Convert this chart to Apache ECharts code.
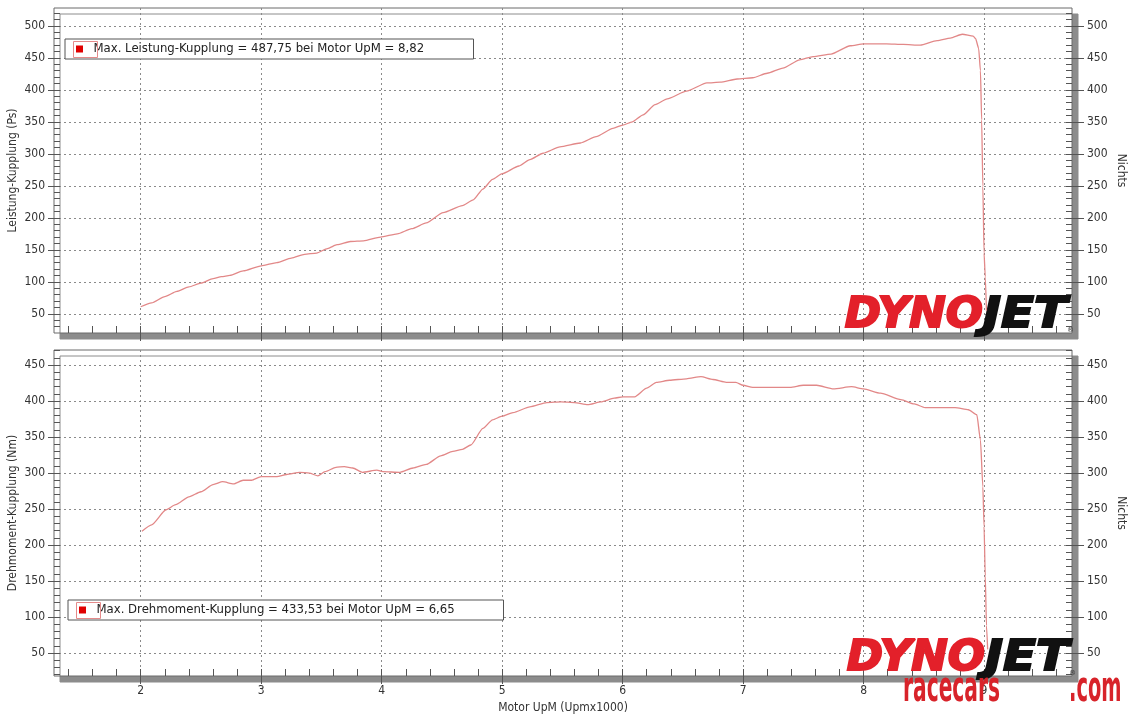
<!DOCTYPE html>
<html>
<head>
<meta charset="utf-8">
<title>Leistung / Drehmoment</title>
<script src="https://cdn.jsdelivr.net/npm/echarts@6/dist/echarts.min.js"></script>
<style>
  html, body { margin: 0; padding: 0; background: #fff; }
  #chart { width: 1140px; height: 727px; }
</style>
</head>
<body>
<div id="chart"></div>
<script>
// Leistung (Ps) ueber Motordrehzahl (x1000)
const rpmPower = [2.00, 2.09, 2.20, 2.30, 2.40, 2.50, 2.60, 2.67, 2.74, 2.85, 3.00, 3.13, 3.25, 3.36, 3.46,
  3.55, 3.63, 3.74, 3.85, 3.99, 4.13, 4.25, 4.37, 4.51, 4.67, 4.76, 4.84, 4.92, 5.00, 5.14, 5.23, 5.34,
  5.48, 5.65, 5.78, 5.92, 6.00, 6.08, 6.17, 6.27, 6.37, 6.53, 6.70, 6.81, 6.95, 7.08, 7.20, 7.33, 7.47,
  7.58, 7.73, 7.89, 8.00, 8.19, 8.33, 8.47, 8.61, 8.72, 8.82, 8.91, 8.93, 8.955, 8.97, 8.98, 8.99, 9.00,
  9.01, 9.02];
const power = [61, 67, 77, 85, 92, 98, 105, 108, 110, 117, 125, 130, 137, 143, 145,
  152, 158, 163, 164, 170, 175, 183, 192, 208, 219, 228, 245, 260, 269, 281, 291, 301,
  311, 317, 327, 340, 345, 350, 361, 377, 386, 398, 411, 412, 417, 419, 426, 434, 447,
  452, 456, 469, 472, 472, 471, 470, 477, 481, 487, 484, 480, 465, 430, 353, 249, 145,
  108, 55];

// Drehmoment (Nm) ueber Motordrehzahl (x1000)
const rpmTorque = [2.01, 2.09, 2.21, 2.29, 2.40, 2.50, 2.60, 2.68, 2.77, 2.85, 2.92, 3.00, 3.13, 3.21,
  3.32, 3.40, 3.47, 3.53, 3.62, 3.69, 3.76, 3.84, 3.96, 4.01, 4.15, 4.26, 4.37, 4.49, 4.59, 4.67, 4.74,
  4.84, 4.92, 5.00, 5.09, 5.23, 5.37, 5.49, 5.60, 5.71, 5.82, 5.93, 6.00, 6.10, 6.20, 6.28, 6.39, 6.53,
  6.65, 6.75, 6.86, 6.94, 7.00, 7.08, 7.25, 7.39, 7.50, 7.61, 7.75, 7.90, 8.00, 8.14, 8.31, 8.42, 8.51,
  8.62, 8.76, 8.87, 8.94, 8.97, 8.99, 9.00, 9.01, 9.02, 9.03];
const torque = [219, 228, 249, 256, 267, 274, 284, 288, 285, 290, 290, 295, 295, 298,
  301, 300, 296, 302, 308, 309, 307, 301, 304, 302, 301, 307, 312, 324, 330, 333, 339,
  362, 374, 379, 384, 392, 398, 399, 398, 395, 399, 404, 406, 406, 418, 426, 429, 431,
  434, 430, 426, 426, 422, 419, 419, 419, 422, 422, 417, 420, 417, 411, 402, 396, 391,
  391, 391, 388, 381, 346, 281, 226, 157, 88, 55];

// Achsenbeschriftungen
const rpmTicks = [2, 3, 4, 5, 6, 7, 8, 9];
const powerTicks = [50, 100, 150, 200, 250, 300, 350, 400, 450, 500];
const torqueTicks = [50, 100, 150, 200, 250, 300, 350, 400, 450];

const powerLegend = 'Max. Leistung-Kupplung = 487,75 bei Motor UpM = 8,82';
const torqueLegend = 'Max. Drehmoment-Kupplung = 433,53 bei Motor UpM = 6,65';

const FONT = '"DejaVu Sans Condensed", "DejaVu Sans", sans-serif';
const X_MIN = 1.28, X_MAX = 9.73;
const P_MIN = 20, P_MAX = 528;
const T_MIN = 18, T_MAX = 471;

function steps(from, to, step) {
  const out = [];
  for (let v = from; v <= to + 1e-9; v += step) out.push(Math.round(v * 100) / 100);
  return out;
}
const rpmMinor = steps(1.4, 9.6, 0.2);
const powerMinor = steps(30, 520, 10);
const torqueMinor = steps(20, 470, 10);

const gridLine = { color: '#8a8a8a', type: [2, 3], width: 1 };
const tickLine = { color: '#555', width: 1 };
const labelStyle = { fontFamily: FONT, fontSize: 12, color: '#333' };

function xMajor(grid, withLabels) {
  return {
    type: 'value', gridIndex: grid, min: X_MIN, max: X_MAX, position: 'bottom',
    name: withLabels ? 'Motor UpM (Upmx1000)' : '',
    nameLocation: 'middle', nameGap: 26, nameMoveOverlap: false,
    nameTextStyle: labelStyle,
    axisLine: { show: false, onZero: false },
    axisTick: { show: true, length: 8, customValues: rpmTicks, lineStyle: tickLine },
    axisLabel: Object.assign({ show: withLabels, customValues: rpmTicks, margin: 9 }, labelStyle),
    splitLine: { show: true, lineStyle: gridLine }
  };
}
function xMinor(grid) {
  return {
    type: 'value', gridIndex: grid, min: X_MIN, max: X_MAX, position: 'bottom',
    axisLine: { show: false, onZero: false },
    axisTick: { show: true, inside: true, length: 7, customValues: rpmMinor, lineStyle: tickLine },
    axisLabel: { show: false },
    splitLine: { show: false }
  };
}
function yMajor(grid, side, min, max, ticks, name) {
  const left = side === 'left';
  return {
    type: 'value', gridIndex: grid, min: min, max: max, position: side,
    name: name, nameLocation: 'middle', nameMoveOverlap: false,
    nameGap: left ? 35 : 43,
    nameRotate: left ? 90 : -90,
    nameTextStyle: labelStyle,
    axisLine: { show: false, onZero: false },
    axisTick: { show: true, length: left ? 6 : 12, customValues: ticks, lineStyle: tickLine },
    axisLabel: Object.assign({ customValues: ticks, margin: left ? 9 : 15 }, labelStyle),
    splitLine: { show: left, lineStyle: gridLine }
  };
}
function yMinor(grid, side, min, max, ticks) {
  return {
    type: 'value', gridIndex: grid, min: min, max: max, position: side,
    axisLine: { show: false, onZero: false },
    axisTick: { show: true, inside: true, length: 6, customValues: ticks, lineStyle: tickLine },
    axisLabel: { show: false },
    splitLine: { show: false }
  };
}

const gridBox = {
  left: 54, right: 68, show: true, backgroundColor: '#fff',
  outerBoundsMode: 'none', containLabel: false,
  borderColor: '#6a6a6a', borderWidth: 1,
  shadowColor: '#8c8c8c', shadowOffsetX: 6, shadowOffsetY: 6, shadowBlur: 0
};

function legendBox(name, left, top, textWidth) {
  return {
    data: [{ name: name, icon: 'path://M0,0H7V7H0Z' }],
    left: left, top: top, itemWidth: 18, itemHeight: 7,
    padding: [2, 4, 2, 11], borderColor: '#555', borderWidth: 1, borderRadius: 0,
    backgroundColor: '#fff', selectedMode: false, z: 10,
    textStyle: { fontFamily: FONT, fontSize: 13, color: '#222', width: textWidth, lineHeight: 16 }
  };
}

function logo(x, y) {
  const f = 'italic bold 42px "DejaVu Sans", sans-serif';
  return [
    { type: 'text', x: x, y: y, scaleX: 1.04, z: 3,
      style: { text: 'DYNO', font: f, fill: '#e3202a', stroke: '#e3202a', lineWidth: 2,
        textAlign: 'right', textVerticalAlign: 'bottom' } },
    { type: 'text', x: x, y: y, scaleX: 1.15, z: 3,
      style: { text: 'JET', font: f, fill: '#111', stroke: '#111', lineWidth: 2,
        textAlign: 'left', textVerticalAlign: 'bottom' } },
    { type: 'text', x: x + 84, y: y - 3, z: 3,
      style: { text: '®', font: '7px "DejaVu Sans"', fill: '#333', textVerticalAlign: 'bottom' } }
  ];
}

const chart = echarts.init(document.getElementById('chart'));
chart.setOption({
  animation: false,
  backgroundColor: '#fff',
  grid: [
    Object.assign({ top: 8, height: 325 }, gridBox),
    Object.assign({ top: 350, height: 326 }, gridBox)
  ],
  xAxis: [xMajor(0, false), xMinor(0), xMajor(1, true), xMinor(1)],
  yAxis: [
    yMajor(0, 'left', P_MIN, P_MAX, powerTicks, 'Leistung-Kupplung (Ps)'),
    yMinor(0, 'left', P_MIN, P_MAX, powerMinor),
    yMajor(0, 'right', P_MIN, P_MAX, powerTicks, 'Nichts'),
    yMinor(0, 'right', P_MIN, P_MAX, powerMinor),
    yMajor(1, 'left', T_MIN, T_MAX, torqueTicks, 'Drehmoment-Kupplung (Nm)'),
    yMinor(1, 'left', T_MIN, T_MAX, torqueMinor),
    yMajor(1, 'right', T_MIN, T_MAX, torqueTicks, 'Nichts'),
    yMinor(1, 'right', T_MIN, T_MAX, torqueMinor)
  ],
  legend: [
    legendBox(powerLegend, 65, 39, 376),
    legendBox(torqueLegend, 68, 600, 403)
  ],
  graphic: [
    { type: 'rect', z: 11, shape: { x: 73.5, y: 41.5, width: 24, height: 16 },
      style: { fill: 'none', stroke: '#e58a8a', lineWidth: 1 } },
    { type: 'rect', z: 11, shape: { x: 76.5, y: 602.5, width: 24, height: 16 },
      style: { fill: 'none', stroke: '#e58a8a', lineWidth: 1 } },
    ...logo(983, 337),
    ...logo(985, 680),
    { type: 'text', x: 903, y: 711, scaleX: 0.75, scaleY: 1.4, z: 20,
      style: { text: 'racecars', font: 'bold 30px "DejaVu Sans Condensed", sans-serif',
        fill: '#d8232a', textVerticalAlign: 'bottom' } },
    { type: 'text', x: 1069, y: 711, scaleX: 0.72, scaleY: 1.4, z: 20,
      style: { text: '.com', font: 'bold 30px "DejaVu Sans Condensed", sans-serif',
        fill: '#d8232a', textVerticalAlign: 'bottom' } }
  ],
  series: [
    {
      type: 'line', name: powerLegend, xAxisIndex: 0, yAxisIndex: 0,
      data: rpmPower.map((x, i) => [x, power[i]]),
      showSymbol: false, smooth: 0.2, smoothMonotone: 'x', z: 5,
      itemStyle: { color: '#e00000' },
      lineStyle: { color: '#e28888', width: 1.3 }
    },
    {
      type: 'line', name: torqueLegend, xAxisIndex: 2, yAxisIndex: 4,
      data: rpmTorque.map((x, i) => [x, torque[i]]),
      showSymbol: false, smooth: 0.2, smoothMonotone: 'x', z: 5,
      itemStyle: { color: '#e00000' },
      lineStyle: { color: '#e28888', width: 1.3 }
    }
  ]
});
</script>
</body>
</html>
